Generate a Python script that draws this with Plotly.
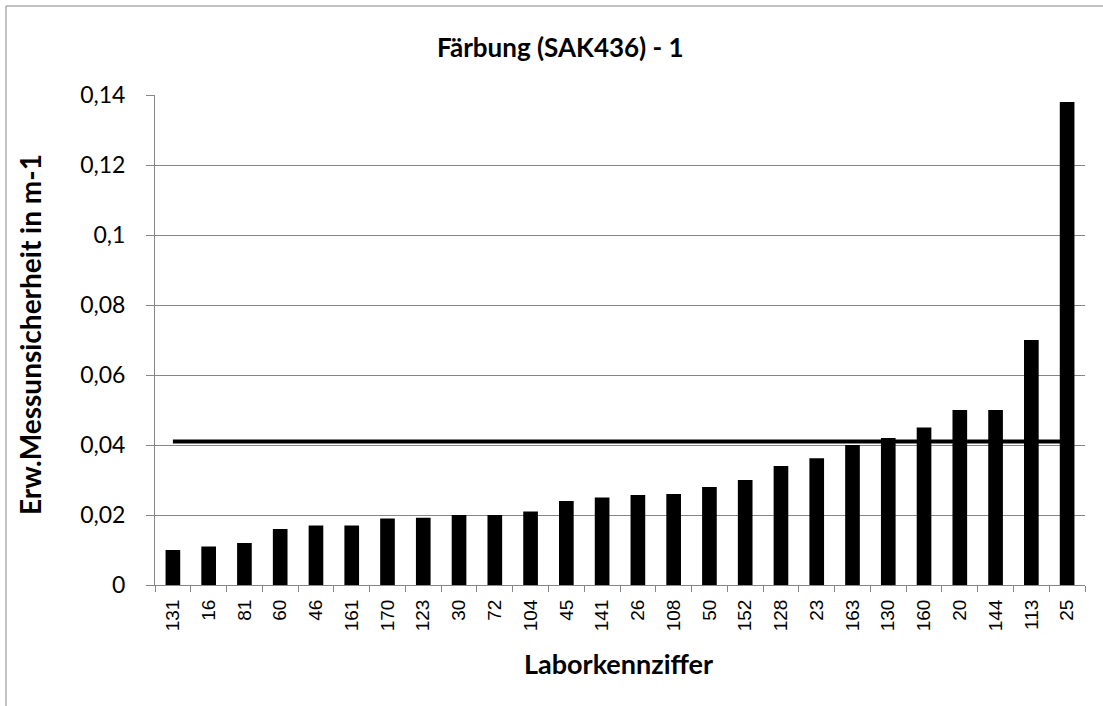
import plotly.graph_objects as go

labs = ["131", "16", "81", "60", "46", "161", "170", "123", "30", "72", "104", "45", "141",
        "26", "108", "50", "152", "128", "23", "163", "130", "160", "20", "144", "113", "25"]
uncertainty = [0.010, 0.011, 0.012, 0.016, 0.017, 0.017, 0.019, 0.0192, 0.020, 0.020, 0.021, 0.024, 0.025,
               0.0257, 0.026, 0.028, 0.030, 0.034, 0.0362, 0.040, 0.042, 0.045, 0.050, 0.050, 0.070, 0.138]
reference_value = 0.041
ytick_vals = [0, 0.02, 0.04, 0.06, 0.08, 0.1, 0.12, 0.14]
ytick_text = ["0", "0,02", "0,04", "0,06", "0,08", "0,1", "0,12", "0,14"]

W, H = 1103, 706
L, R, T, B = 155, 18, 95, 121
pw, ph = W - L - R, H - T - B
grey = "#868686"
calib = "Lato, 'Open Sans', sans-serif"

def px_x(x):
    return (x - L) / pw

def px_y(y):
    return (H - B - y) / ph

fig = go.Figure()
fig.add_trace(go.Bar(x=labs, y=uncertainty, marker=dict(color="black", line=dict(width=0)),
                     showlegend=False))
fig.add_trace(go.Scatter(x=labs, y=[reference_value] * len(labs), mode="lines",
                         line=dict(color="black", width=4), showlegend=False))

fig.update_layout(
    width=W, height=H,
    margin=dict(l=L, r=R, t=T, b=B),
    plot_bgcolor="white", paper_bgcolor="white",
    bargap=0.59,
    xaxis=dict(type="category", showline=True, linecolor=grey, linewidth=1,
               ticks="outside", tickson="boundaries", ticklen=6, tickcolor=grey,
               tickangle=-90, tickfont=dict(family="Liberation Sans, Arial", size=19, color="black"),
               ticklabelstandoff=6,
               showgrid=False, zeroline=False),
    yaxis=dict(range=[0, 0.14], tickvals=ytick_vals, ticktext=ytick_text,
               showline=True, linecolor=grey, linewidth=1,
               ticks="outside", ticklen=8, tickcolor=grey,
               tickfont=dict(family=calib, size=23, color="black"),
               ticklabelstandoff=16,
               showgrid=True, gridcolor=grey, gridwidth=1, zeroline=False),
    annotations=[
        dict(text="<b>Färbung (SAK436) - 1</b>", xref="paper", yref="paper",
             x=px_x(560), y=px_y(47), xanchor="center", yanchor="middle",
             showarrow=False, font=dict(family=calib, size=26, color="black")),
        dict(text="<b>Erw.Messunsicherheit in m-1</b>", xref="paper", yref="paper",
             x=px_x(30), y=px_y(335), xanchor="center", yanchor="middle", textangle=-90,
             showarrow=False, font=dict(family=calib, size=28, color="black")),
        dict(text="<b>Laborkennziffer</b>", xref="paper", yref="paper",
             x=px_x(618), y=px_y(663), xanchor="center", yanchor="middle",
             showarrow=False, font=dict(family=calib, size=27, color="black")),
    ],
    shapes=[
        dict(type="line", xref="paper", yref="paper", x0=px_x(6), x1=px_x(1103), y0=px_y(6), y1=px_y(6),
             line=dict(color=grey, width=1)),
        dict(type="line", xref="paper", yref="paper", x0=px_x(6), x1=px_x(6), y0=px_y(6), y1=px_y(706),
             line=dict(color=grey, width=1)),
    ],
)

fig.write_html("out.html", config={"displayModeBar": False},
               post_script="document.body.style.margin='0';document.body.style.overflow='hidden';")
